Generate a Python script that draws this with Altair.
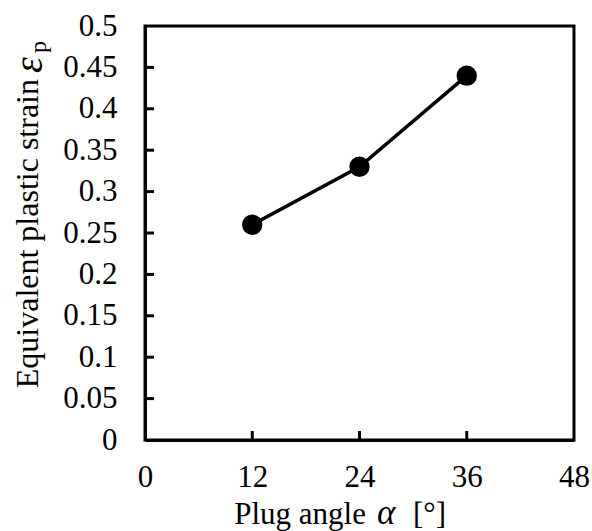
import altair as alt
import pandas as pd

# Data
plug_angle = [12, 24, 36]
strain = [0.26, 0.33, 0.44]
x_ticks = [0, 12, 24, 36, 48]
y_ticks = [0, 0.05, 0.1, 0.15, 0.2, 0.25, 0.3, 0.35, 0.4, 0.45, 0.5]
x_inner_ticks = [12, 24, 36]
y_inner_ticks = [0.05, 0.1, 0.15, 0.2, 0.25, 0.3, 0.35, 0.4, 0.45]

FONT = "Liberation Serif"
FS = 31
W, H = 429, 414

df = pd.DataFrame({"angle": plug_angle, "strain": strain})

xscale = alt.Scale(domain=[0, 48], nice=False, zero=False)
yscale = alt.Scale(domain=[0, 0.5], nice=False, zero=False)

xaxis = alt.Axis(values=x_ticks, title=None, labelPadding=22)
yaxis = alt.Axis(values=y_ticks, title=None, labelPadding=28,
                 labelExpr="format(datum.value, '~g')")

base = alt.Chart(df)
line = base.mark_line(color="black", strokeWidth=3.5).encode(
    x=alt.X("angle:Q", scale=xscale, axis=xaxis),
    y=alt.Y("strain:Q", scale=yscale, axis=yaxis),
)
points = base.mark_circle(color="black", size=415, opacity=1).encode(
    x=alt.X("angle:Q", scale=xscale, axis=xaxis),
    y=alt.Y("strain:Q", scale=yscale, axis=yaxis),
)

yt = alt.Chart(pd.DataFrame({"v": y_inner_ticks})).mark_rule(color="black", strokeWidth=3).encode(
    y=alt.Y("v:Q", scale=yscale, axis=yaxis), x=alt.value(0), x2=alt.value(9))
xt = alt.Chart(pd.DataFrame({"v": x_inner_ticks})).mark_rule(color="black", strokeWidth=3).encode(
    x=alt.X("v:Q", scale=xscale, axis=xaxis), y=alt.value(H), y2=alt.value(H - 9))

def txt(s, x, y, size=FS, italic=False, align="left", angle=0):
    kw = dict(font=FONT, fontSize=size, color="black", align=align, baseline="alphabetic")
    if italic:
        kw["fontStyle"] = "italic"
    if angle:
        kw["angle"] = angle
    return alt.Chart(pd.DataFrame({"t": [s]})).mark_text(**kw).encode(
        text="t:N", x=alt.value(x), y=alt.value(y))

# x title pieces
xt1 = txt("Plug angle", 366 - 145, 524 - 26, align="right")
xt2 = txt("α", 377 - 145, 524 - 26, italic=True, size=35)
xt3 = txt("[°]", 413 - 145, 524 - 26)
# y title pieces (rotated)
yt1 = txt("Equivalent plastic strain", 38 - 145, 79 - 26, align="right", angle=270, size=32)
yt2 = txt("ε", 42 - 145, 73 - 26, italic=True, angle=270, size=40)
yt3 = txt("p", 46 - 145, 53 - 26, size=24, angle=270)

chart = alt.layer(line, points, yt, xt, xt1, xt2, xt3, yt1, yt2, yt3).properties(
    width=W, height=H,
    autosize=alt.AutoSizeParams(type="none"),
    padding={"left": 145, "top": 26, "right": 18, "bottom": 91},
    background="white",
).configure_view(stroke="black", strokeWidth=3).configure_axis(
    tickSize=0, grid=False, labelFont=FONT, labelFontSize=FS, labelColor="black",
    domainColor="black", domainWidth=3, labelFlush=False,
)

chart.save("out.html", embed_options={"renderer": "svg", "actions": False})
